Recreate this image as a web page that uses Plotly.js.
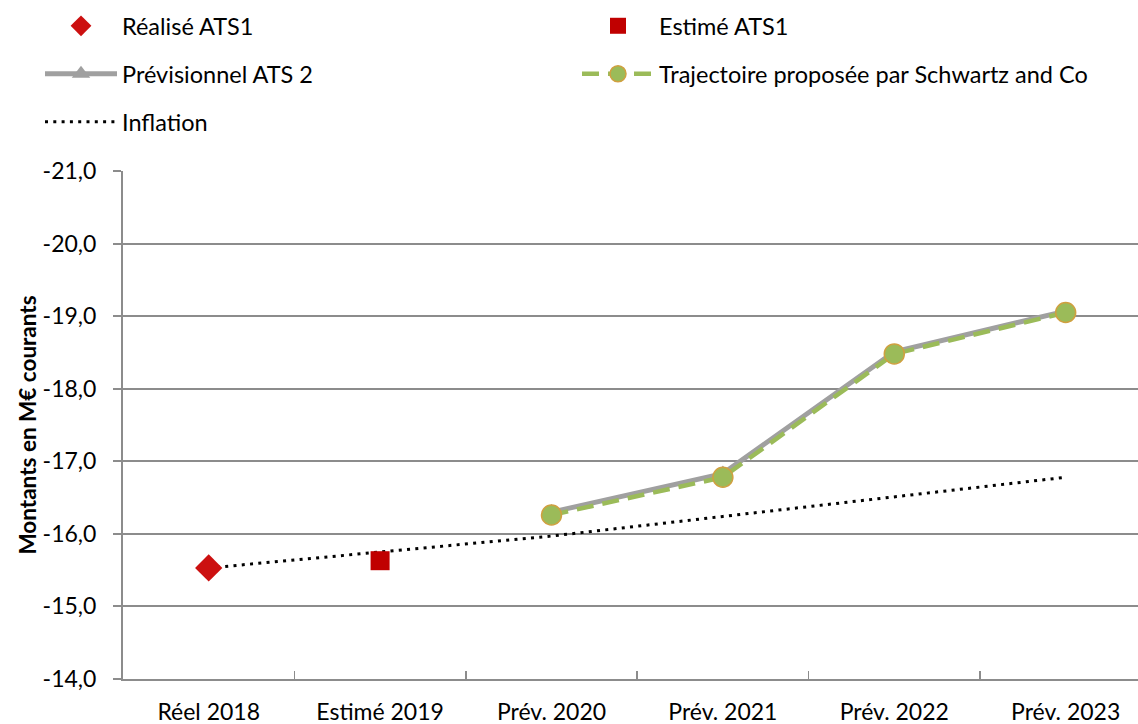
<!DOCTYPE html>
<html><head><meta charset="utf-8">
<script src="https://cdn.plot.ly/plotly-3.0.1.min.js"></script>
<style>html,body{margin:0;padding:0;overflow:hidden;background:#fff}</style>
</head><body><div id="chart" style="width:1138px;height:724px"></div>
<script>
const categories = ["Réel 2018","Estimé 2019","Prév. 2020","Prév. 2021","Prév. 2022","Prév. 2023"];
const realise = [-15.53, null, null, null, null, null];
const estime = [null, -15.63, null, null, null, null];
const previsionnel = [null, null, -16.30, -16.83, -18.51, -19.07];
const trajectoire = [null, null, -16.26, -16.78, -18.48, -19.05];
const inflation = [-15.53, -15.75, -15.97, -16.24, -16.51, -16.78];
const yTicks = [-21,-20,-19,-18,-17,-16,-15,-14];
const yTickLabels = ["-21,0","-20,0","-19,0","-18,0","-17,0","-16,0","-15,0","-14,0"];

const FONT = "Lato, 'Open Sans', sans-serif";
const traces = [
  {x: categories, y: inflation, name: "Inflation", type: "scatter", mode: "lines",
   line: {color: "#000000", width: 3, dash: "3px,5.3px"}, legend: "legend5"},
  {x: categories, y: realise, name: "Réalisé ATS1", type: "scatter", mode: "markers",
   marker: {symbol: "diamond", size: 21, color: "#cc1010"}, legend: "legend"},
  {x: categories, y: estime, name: "Estimé ATS1", type: "scatter", mode: "markers",
   marker: {symbol: "square", size: 19, color: "#c00000"}, legend: "legend2"},
  {x: categories, y: previsionnel, name: "Prévisionnel ATS 2", type: "scatter", mode: "lines+markers",
   line: {color: "#a0a0a0", width: 5}, marker: {symbol: "triangle-up", size: 16, color: "#a0a0a0"}, legend: "legend3"},
  {x: categories, y: trajectoire, name: "Trajectoire proposée par Schwartz and Co", type: "scatter", mode: "lines+markers",
   line: {color: "#9bbb59", width: 4.5, dash: "17px,9px"}, marker: {symbol: "circle", size: 20, color: "#9bbb59", line: {color: "#d0a040", width: 1.5}}, legend: "legend4"}
];

function leg(xpx, ypx) {
  return {orientation: "h", xref: "container", yref: "container", xanchor: "left", yanchor: "middle",
    x: xpx / 1138, y: 1 - ypx / 724,
    font: {family: FONT, size: 23.5, color: "#000"}, bgcolor: "rgba(0,0,0,0)", itemwidth: 72};
}

const layout = {
  width: 1138, height: 724,
  margin: {l: 123, r: 0, t: 171, b: 45},
  paper_bgcolor: "#fff", plot_bgcolor: "#fff",
  font: {family: FONT, size: 23, color: "#000"},
  showlegend: true,
  legend: leg(40, 26),
  legend2: leg(577, 26),
  legend3: leg(40, 74),
  legend4: leg(577, 74),
  legend5: leg(40, 122),
  xaxis: {type: "category", range: [-0.5, 5.422], tickson: "boundaries", ticks: "inside", ticklen: 8,
    tickcolor: "#8c8c8c", tickwidth: 1.5, showline: true, linecolor: "#8c8c8c", linewidth: 2,
    showgrid: false, zeroline: false, tickfont: {family: FONT, size: 23}, ticklabelstandoff: 11, fixedrange: true},
  yaxis: {range: [-14, -21], tickvals: yTicks, ticktext: yTickLabels, ticks: "outside", ticklen: 8,
    tickcolor: "#8c8c8c", tickwidth: 2, showline: true, linecolor: "#8c8c8c", linewidth: 2,
    showgrid: true, gridcolor: "#8c8c8c", gridwidth: 2, zeroline: false,
    tickfont: {family: FONT, size: 23}, ticklabelstandoff: 12,
    title: {text: "<b>Montants en M€ courants</b>", font: {family: FONT, size: 22.5}, standoff: 0}}
};
Plotly.newPlot("chart", traces, layout, {displayModeBar: false, staticPlot: true});
</script></body></html>
